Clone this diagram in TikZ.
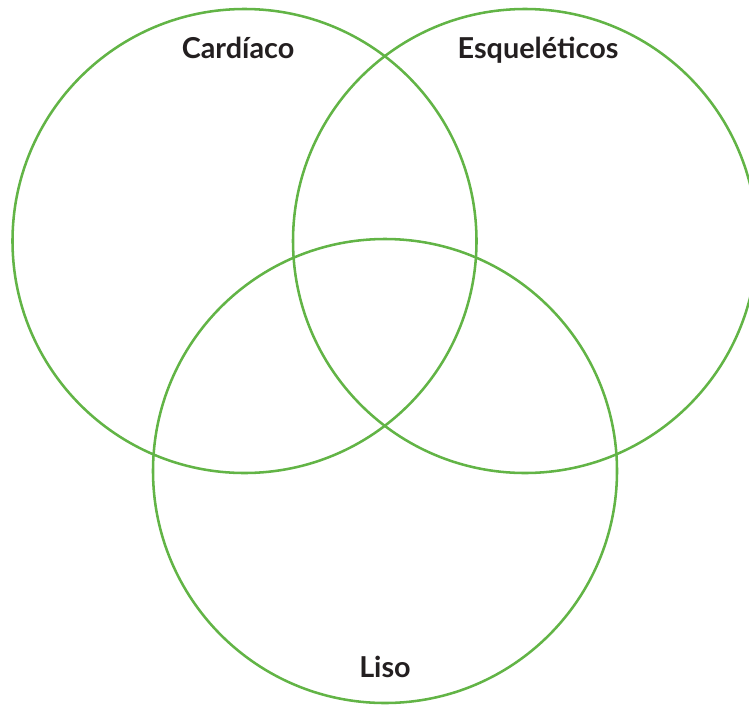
\documentclass[tikz,border=0pt]{standalone}
\usepackage{fontspec}
\setmainfont{Lato}
\definecolor{vgreen}{RGB}{98,180,70}
\definecolor{vtext}{RGB}{35,31,32}
\begin{document}
\begin{tikzpicture}[x=0.75pt,y=-0.75pt,
  venn/.style={draw=vgreen,line width=1.9pt},
  lbl/.style={anchor=base,text=vtext,font=\fontsize{21.6}{24}\selectfont\bfseries,inner sep=0pt}]
\useasboundingbox (0,0) rectangle (749,707);
\node[venn,circle,minimum size=464*0.75pt,inner sep=0pt] (c1) at (244.5,241) {};
\node[venn,circle,minimum size=464*0.75pt,inner sep=0pt] (c2) at (525,241) {};
\node[venn,circle,minimum size=464*0.75pt,inner sep=0pt] (c3) at (385,471) {};
\node[lbl] (t1) at (238,58) {Cardíaco};
\node[lbl] (t2) at (538,58) {Esqueléticos};
\node[lbl] (t3) at (385,677) {Liso};
\end{tikzpicture}
\end{document}
